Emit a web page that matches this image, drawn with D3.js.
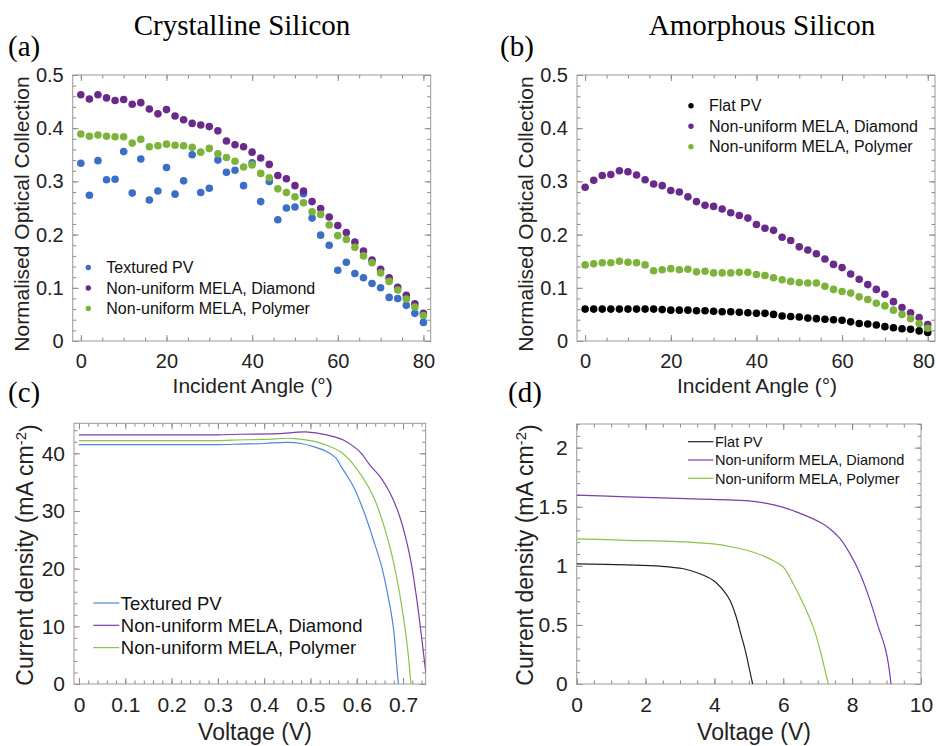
<!DOCTYPE html>
<html>
<head>
<meta charset="utf-8">
<script src="https://cdn.jsdelivr.net/npm/d3@7"></script>
<style>
  body { margin: 0; background: #fff; }
  text { font-family: "Liberation Sans", Arial, sans-serif; }
</style>
</head>
<body>
<svg id="fig" width="936" height="746"></svg>
<script>
// ---- data ----
const angles = [0,2,4,6,8,10,12,14,16,18,20,22,24,26,28,30,32,34,36,38,40,
                42,44,46,48,50,52,54,56,58,60,62,64,66,68,70,72,74,76,78,80];

// (a) crystalline silicon, normalised optical collection
const crystTextured = [.334,.274,.339,.303,.304,.356,.278,.342,.265,.282,.326,.276,.301,.350,.279,.287,.340,.317,.321,.292,
                       .335,.262,.300,.228,.250,.252,.277,.231,.199,.180,.133,.148,.127,.119,.108,.100,.082,.080,.067,.052,.035];
const crystDiamond  = [.463,.455,.463,.457,.452,.454,.445,.448,.436,.427,.435,.423,.416,.409,.406,.403,.395,.376,.369,.365,
                       .355,.344,.332,.311,.305,.292,.282,.262,.249,.233,.217,.204,.186,.169,.152,.135,.119,.101,.086,.070,.052];
const crystPolymer  = [.389,.385,.387,.385,.384,.384,.372,.379,.365,.367,.370,.368,.367,.364,.355,.362,.352,.345,.338,.327,
                       .331,.315,.307,.286,.279,.271,.260,.243,.238,.218,.198,.191,.176,.160,.147,.128,.112,.096,.079,.064,.048];

// (b) amorphous silicon
const amorphFlat    = [.060,.060,.060,.060,.060,.060,.060,.060,.060,.059,.058,.058,.058,.057,.057,.056,.055,.055,.054,.053,
                       .052,.052,.050,.047,.046,.045,.043,.042,.041,.040,.039,.036,.033,.032,.030,.027,.025,.023,.022,.019,.016];
const amorphDiamond = [.289,.302,.311,.313,.320,.318,.312,.303,.295,.292,.283,.280,.271,.262,.255,.253,.248,.241,.236,.231,
                       .219,.212,.208,.195,.189,.177,.171,.164,.154,.144,.138,.126,.116,.106,.097,.088,.074,.063,.053,.044,.031];
const amorphPolymer = [.143,.145,.147,.147,.150,.148,.147,.143,.132,.134,.136,.134,.135,.130,.131,.128,.128,.128,.129,.129,
                       .125,.123,.119,.115,.112,.110,.109,.109,.103,.097,.093,.090,.083,.078,.071,.066,.058,.050,.042,.033,.024];

// (c) crystalline IV curves  [voltage V, current density mA/cm2]
const ivTextured = [[0,41.5],[0.1,41.5],[0.2,41.5],[0.3,41.5],[0.35,41.6],[0.4,41.7],[0.45,41.9],[0.48,41.7],[0.505,41.2],
                    [0.535,40.3],[0.555,39.2],[0.567,37.6],[0.58,36.0],[0.593,34.2],[0.614,30.2],[0.636,25.0],[0.654,20.3],
                    [0.668,15.1],[0.679,9.9],[0.686,3.6],[0.690,0]];
const ivCDiamond = [[0,43.2],[0.1,43.2],[0.2,43.2],[0.3,43.2],[0.35,43.3],[0.43,43.4],[0.49,43.7],[0.535,43.2],
                    [0.571,42.3],[0.593,41.2],[0.610,40.0],[0.628,38.0],[0.650,36.0],[0.672,33.1],[0.693,29.0],
                    [0.715,22.1],[0.729,15.1],[0.740,8.2],[0.749,2.1]];
const ivCPolymer = [[0,42.2],[0.1,42.2],[0.2,42.2],[0.3,42.2],[0.33,42.3],[0.4,42.4],[0.46,42.6],[0.506,42.1],
                    [0.535,41.4],[0.564,40.3],[0.585,38.8],[0.596,37.7],[0.614,35.7],[0.636,32.5],[0.657,27.9],
                    [0.675,22.7],[0.690,16.9],[0.704,9.9],[0.711,5.3],[0.717,0]];

// (d) amorphous IV curves
const ivFlat     = [[0,1.017],[1.45,1.008],[2.42,0.997],[3.10,0.975],[3.58,0.933],[3.97,0.876],[4.26,0.792],
                    [4.45,0.708],[4.62,0.580],[4.77,0.420],[4.90,0.280],[5.02,0.120],[5.11,0]];
const ivADiamond = [[0,1.598],[1.45,1.584],[3.39,1.567],[4.94,1.551],[5.52,1.528],[6.0,1.494],[6.49,1.444],
                    [7.07,1.368],[7.36,1.312],[7.65,1.230],[7.94,1.101],[8.23,0.933],[8.52,0.708],[8.76,0.483],
                    [8.95,0.315],[9.05,0.174],[9.13,0]];
const ivAPolymer = [[0,1.228],[1.45,1.216],[2.90,1.205],[3.97,1.185],[4.55,1.157],[5.13,1.115],[5.61,1.059],
                    [6.0,0.989],[6.29,0.848],[6.58,0.680],[6.87,0.483],[7.07,0.287],[7.21,0.118],[7.31,0]];

const labelsCryst  = ["Textured PV", "Non-uniform MELA, Diamond", "Non-uniform MELA, Polymer"];
const labelsAmorph = ["Flat PV", "Non-uniform MELA, Diamond", "Non-uniform MELA, Polymer"];

// colours
const cBlue = "#3b6ec6", cPurple = "#6a2a8c", cGreen = "#7db33a", cBlack = "#000";
const lBlue = "#4f86dc", lPurple = "#7b3fa8", lGreen = "#8cc24c", lBlack = "#222";

const W = 936;
const svg = d3.select("#fig");
const fmt = d3.format(".1~f");

// frame with inward ticks on all four sides
function frame(x, y, o) {
  const g = svg.append("g");
  const [x0, x1] = x.range(), [y0, y1] = y.range();
  const sides = [
    [d3.axisBottom, x, `translate(0,${y0})`, o.xMajor, o.xMinor, true, o.xPad],
    [d3.axisTop,    x, `translate(0,${y1})`, o.xMajor, o.xMinor, false, 0],
    [d3.axisLeft,   y, `translate(${x0},0)`, o.yMajor, o.yMinor, true, o.yPad],
    [d3.axisRight,  y, `translate(${x1},0)`, o.yMajor, o.yMinor, false, 0]
  ];
  sides.forEach(([ax, sc, tr, maj, min, lab, pad]) => {
    const gm = g.append("g").attr("transform", tr)
      .call(ax(sc).tickValues(min).tickSize(-3.5).tickFormat(""));
    const gM = g.append("g").attr("transform", tr)
      .call(ax(sc).tickValues(maj).tickSize(-6).tickPadding(pad)
        .tickFormat(lab ? fmt : ""));
    [gm, gM].forEach(s => {
      s.select(".domain").remove();
      s.selectAll("line").attr("stroke", "#8a8a8a");
    });
    gM.selectAll("text").attr("fill", "#222").style("font-size", o.tickFont + "px")
      .style("font-family", '"Liberation Sans", Arial, sans-serif');
  });
  g.append("rect").attr("x", x0).attr("y", y1).attr("width", x1 - x0).attr("height", y0 - y1)
    .attr("fill", "none").attr("stroke", "#9a9a9a");
  // keep the last label inside the page
  g.selectAll(".tick text").each(function () {
    const b = this.getBoundingClientRect();
    if (b.right > W - 1) d3.select(this).attr("dx", -(b.right - W + 1));
  });
  return g;
}

function ticks(a, b, s) { return d3.range(a, b + s / 2, s).map(v => +v.toFixed(4)); }

// ---- panel titles ----
svg.append("text").attr("x", 242).attr("y", 35).attr("text-anchor", "middle")
  .style("font-family", '"Liberation Serif", "Times New Roman", serif').style("font-size", "29px")
  .text("Crystalline Silicon");
svg.append("text").attr("x", 762).attr("y", 35).attr("text-anchor", "middle")
  .style("font-family", '"Liberation Serif", "Times New Roman", serif').style("font-size", "29px")
  .text("Amorphous Silicon");
[["(a)", 8, 56], ["(b)", 500, 56], ["(c)", 8, 402], ["(d)", 508, 402]].forEach(([t, px, py]) => {
  svg.append("text").attr("x", px).attr("y", py)
    .style("font-family", '"Liberation Serif", "Times New Roman", serif').style("font-size", "29px").text(t);
});

// ---- scatter panels (a), (b) ----
function scatterPanel(left, right, series, colors, labels, legX, legY) {
  const x = d3.scaleLinear().domain([-1.9, 81.7]).range([left, right]);
  const y = d3.scaleLinear().domain([0, 0.5]).range([341, 75]);
  frame(x, y, { xMajor: ticks(0, 80, 20), xMinor: ticks(0, 80, 5), yMajor: ticks(0, 0.5, 0.1),
                yMinor: ticks(0, 0.5, 0.02), xPad: 13, yPad: 9, tickFont: 20 });
  series.forEach((s, i) => {
    svg.append("g").selectAll("circle").data(s).join("circle")
      .attr("cx", (d, k) => x(angles[k])).attr("cy", d => y(d)).attr("r", 3.8)
      .attr("fill", colors[i]);
  });
  const leg = svg.append("g");
  labels.forEach((t, i) => {
    leg.append("circle").attr("cx", legX).attr("cy", legY + i * 20.5).attr("r", 2.7).attr("fill", colors[i]);
    leg.append("text").attr("x", legX + 18).attr("y", legY + i * 20.5).attr("dy", "0.36em")
      .style("font-size", "16px").attr("fill", "#111").text(t);
  });
  svg.append("text").attr("x", (left + right) / 2 + 1).attr("y", 393).attr("text-anchor", "middle")
    .style("font-size", "21px").attr("fill", "#222").text("Incident Angle (°)");
  svg.append("text").attr("transform", `translate(${left - 44},214) rotate(-90)`).attr("text-anchor", "middle")
    .style("font-size", "21px").attr("fill", "#222").text("Normalised Optical Collection");
}

scatterPanel(72.7, 430.7, [crystTextured, crystDiamond, crystPolymer], [cBlue, cPurple, cGreen],
             labelsCryst, 88.3, 267.5);
scatterPanel(577, 935, [amorphFlat, amorphDiamond, amorphPolymer], [cBlack, cPurple, cGreen],
             labelsAmorph, 691, 105.7);

// ---- line panels (c), (d) ----
function ivPanel(id, x, y, o, series, colors, labels, leg) {
  frame(x, y, o);
  const [x0, x1] = x.range(), [y0, y1] = y.range();
  svg.append("clipPath").attr("id", id).append("rect")
    .attr("x", x0).attr("y", y1).attr("width", x1 - x0).attr("height", y0 - y1);
  const line = d3.line().x(d => x(d[0])).y(d => y(d[1])).curve(d3.curveCatmullRom.alpha(0.5));
  series.forEach((s, i) => {
    svg.append("path").datum(s).attr("d", line).attr("fill", "none")
      .attr("stroke", colors[i]).attr("stroke-width", 1.2).attr("clip-path", `url(#${id})`);
  });
  labels.forEach((t, i) => {
    const ly = leg.y + i * leg.dy;
    svg.append("line").attr("x1", leg.x).attr("x2", leg.x + leg.len).attr("y1", ly).attr("y2", ly)
      .attr("stroke", colors[i]).attr("stroke-width", 1.2);
    svg.append("text").attr("x", leg.x + leg.len + 1.5).attr("y", ly).attr("dy", "0.36em")
      .style("font-size", leg.font + "px").attr("fill", "#111").text(t);
  });
  svg.append("text").attr("x", o.xt).attr("y", 740).attr("text-anchor", "middle")
    .style("font-size", "23px").attr("fill", "#222").text("Voltage (V)");
  const yt = svg.append("text").attr("transform", `translate(${o.yt},555) rotate(-90)`).attr("text-anchor", "middle")
    .style("font-size", "23px").attr("fill", "#222");
  yt.append("tspan").text("Current density (mA cm");
  yt.append("tspan").attr("dy", "-0.45em").style("font-size", "15px").text("-2");
  yt.append("tspan").attr("dy", "0.45em").text(")");
}

ivPanel("clipc",
  d3.scaleLinear().domain([-0.0108, 0.749]).range([74, 425.7]),
  d3.scaleLinear().domain([0, 45.2]).range([684, 423.3]),
  { xMajor: ticks(0, 0.7, 0.1), xMinor: ticks(0, 0.74, 0.02), yMajor: ticks(0, 40, 10), yMinor: ticks(0, 44, 2),
    xPad: 13, yPad: 9, tickFont: 21, xt: 255, yt: 33 },
  [ivTextured, ivCDiamond, ivCPolymer], [lBlue, lPurple, lGreen], labelsCryst,
  { x: 93.3, y: 603, dy: 22.3, len: 26, font: 18.5 });

ivPanel("clipd",
  d3.scaleLinear().domain([0, 10]).range([576.7, 921]),
  d3.scaleLinear().domain([0, 2.2]).range([684, 424]),
  { xMajor: ticks(0, 10, 2), xMinor: ticks(0, 10, 0.5), yMajor: ticks(0, 2, 0.5), yMinor: ticks(0, 2.2, 0.1),
    xPad: 13, yPad: 9, tickFont: 21, xt: 754, yt: 533 },
  [ivFlat, ivADiamond, ivAPolymer], [lBlack, lPurple, lGreen], labelsAmorph,
  { x: 688, y: 441.7, dy: 18.3, len: 25.5, font: 14.5 });
</script>
</body>
</html>
